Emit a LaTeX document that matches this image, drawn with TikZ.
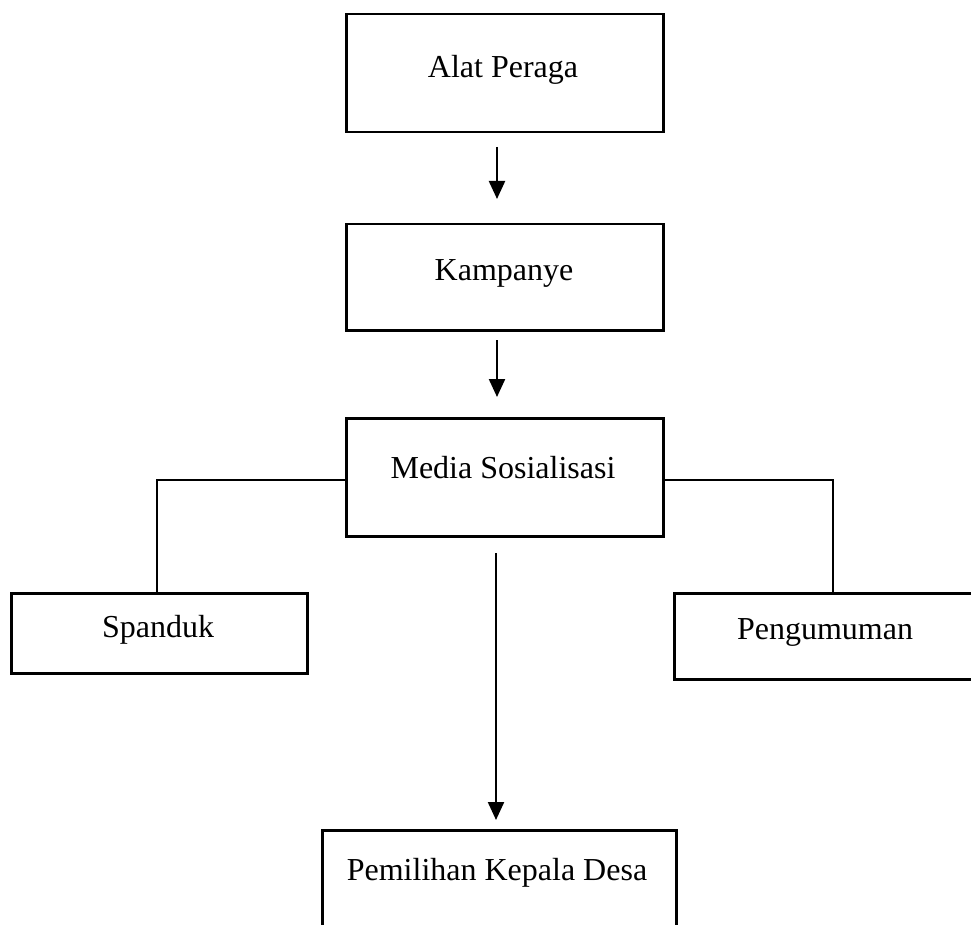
\documentclass[tikz,border=0pt]{standalone}
\usepackage{fontspec}
\setmainfont{Liberation Serif}
\usetikzlibrary{arrows.meta}
\begin{document}
\begin{tikzpicture}[x=1pt,y=-1pt,
 box/.style={draw,line width=2.5pt,anchor=north west,inner sep=0pt},
 lbl/.style={anchor=base,font=\fontsize{32}{38}\selectfont,inner sep=0pt},
 arr/.style={line width=2.2pt,-{Triangle[length=18pt,width=16pt]}},
 conn/.style={line width=1.2pt}]
\useasboundingbox (0,0) rectangle (971,925);
% boxes
\node[box,minimum width=317pt,minimum height=118pt] (alat) at (345,13) {};
\node[box,minimum width=317pt,minimum height=106pt] (kamp) at (345,223) {};
\node[box,minimum width=317pt,minimum height=118pt] (media) at (345,417) {};
\node[box,minimum width=296pt,minimum height=80pt] (spand) at (10,592) {};
\node[box,minimum width=302pt,minimum height=86pt] (peng) at (673,592) {};
\node[box,minimum width=354pt,minimum height=130pt] (pemil) at (321,829) {};
% labels
\node[lbl] (talat) at (503,78) {Alat Peraga};
\node[lbl] (tkamp) at (504,280) {Kampanye};
\node[lbl] (tmedia) at (503,478) {Media Sosialisasi};
\node[lbl] (tspand) at (158,637) {Spanduk};
\node[lbl] (tpeng) at (825,639) {Pengumuman};
\node[lbl] (tpemil) at (497,880) {Pemilihan Kepala Desa};
% arrows
\coordinate (a1s) at (497,147);
\coordinate (a1e) at (497,199);
\coordinate (a2s) at (497,340);
\coordinate (a2e) at (497,397);
\coordinate (a3s) at (496,553);
\coordinate (a3e) at (496,820);
\draw[arr] (a1s) -- (a1e);
\draw[arr] (a2s) -- (a2e);
\draw[arr] (a3s) -- (a3e);
% side connectors
\coordinate (cL) at (157,480);
\coordinate (cR) at (833,480);
\draw[conn] (media.west |- cL) -| (cL |- spand.north);
\draw[conn] (media.east |- cR) -| (cR |- peng.north);
\end{tikzpicture}
\end{document}
